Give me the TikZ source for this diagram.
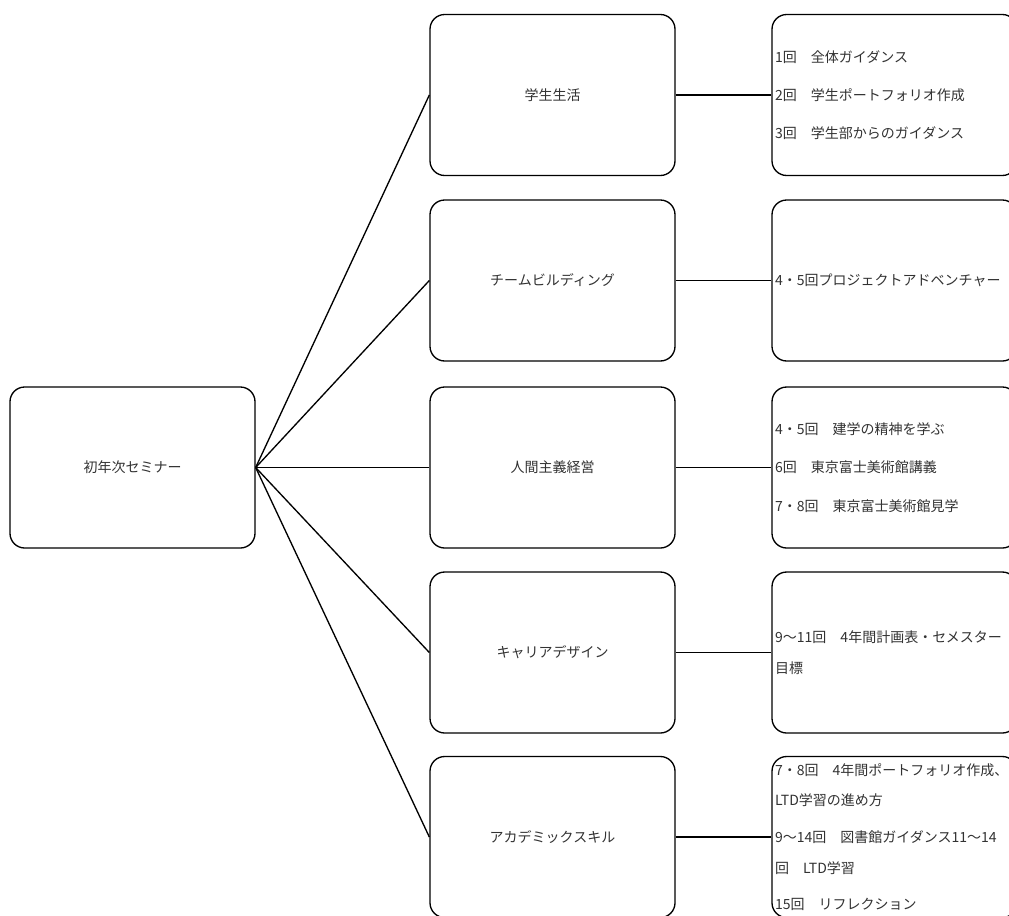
\documentclass[tikz,border=0pt]{standalone}
\usepackage{fontspec}
\setmainfont{Noto Sans CJK JP}
\usetikzlibrary{positioning}

\begin{document}
\begin{tikzpicture}[x=0.75pt, y=-0.75pt, line width=1pt, every node/.style={draw=black, line width=1pt, rounded corners=11pt, minimum width=183.75pt, minimum height=120.75pt, text={rgb,255:red,50;green,50;blue,50}, font=\fontsize{10.5pt}{23pt}\selectfont},
  infobox/.style={align=left, text width=179pt, inner xsep=1.5pt}]
          \useasboundingbox (0, 0) rectangle (1009, 915);

          \node (seminar) at (132.5, 467.5) {初年次セミナー};

          \node (life) at (552.5, 95) {学生生活};

          \node (team) at (552.5, 280.5) {チームビルディング};

          \node (mgmt) at (552.5, 467.5) {人間主義経営};

          \node (career) at (552.5, 652.5) {キャリアデザイン};

          \node (skill) at (552.5, 837) {アカデミックスキル};

          \node[infobox] (lifeinfo) at (894.5, 95) {1回　全体ガイダンス\\[5.5pt]2回　学生ポートフォリオ作成\\[5.5pt]3回　学生部からのガイダンス};

          \node[infobox] (teaminfo) at (894.5, 280.5) {4・5回プロジェクトアドベンチャー};

          \node[infobox] (mgmtinfo) at (894.5, 467.5) {4・5回　建学の精神を学ぶ\\[6pt]6回　東京富士美術館講義\\[6pt]7・8回　東京富士美術館見学};

          \node[infobox] (careerinfo) at (894.5, 652.5) {9～11回　4年間計画表・セメスター\\目標};

          \node[infobox] (skillinfo) at (894.5, 837) {7・8回　4年間ポートフォリオ作成、\\LTD学習の進め方\\[4.5pt]9～14回　図書館ガイダンス11～14\\回　LTD学習\\[4.5pt]15回　リフレクション};

          \draw (seminar.east) -- (life.west);
          \draw (seminar.east) -- (team.west);
          \draw (seminar.east) -- (mgmt.west);
          \draw (seminar.east) -- (career.west);
          \draw (seminar.east) -- (skill.west);

          \draw (life.east) -- (lifeinfo.west);
          \draw (team.east) -- (teaminfo.west);
          \draw (mgmt.east) -- (mgmtinfo.west);
          \draw (career.east) -- (careerinfo.west);
          \draw (skill.east) -- (skillinfo.west);
        \end{tikzpicture}
\end{document}
